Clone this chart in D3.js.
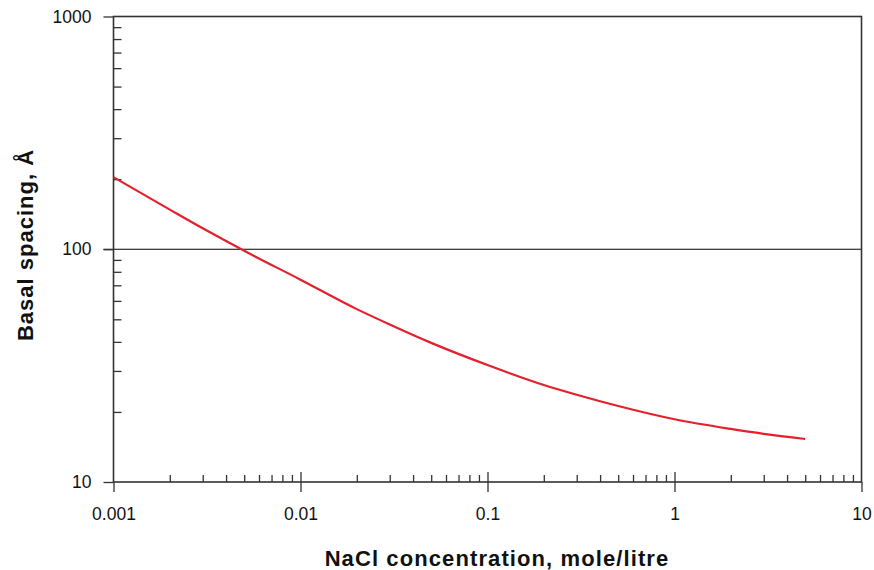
<!DOCTYPE html>
<html>
<head>
<meta charset="utf-8">
<script src="https://cdn.jsdelivr.net/npm/d3@7"></script>
<style>
  body { margin: 0; background: #fff; }
  text { font-family: "Liberation Sans", Arial, sans-serif; }
</style>
</head>
<body>
<div id="container"></div>
<script>
let w = 874;
let h = 570;
let plotLeft = 113.5;
let plotRight = 861.5;
let plotTop = 16.5;
let plotBottom = 482;

// data
let concentration = [0.001, 0.002, 0.003, 0.005, 0.01, 0.02, 0.03, 0.05, 0.1, 0.2, 0.3, 0.5, 1, 2, 3, 5];
let spacing = [204, 148, 123, 98.5, 74, 55.3, 47.5, 39.6, 31.8, 26.1, 23.7, 21.2, 18.6, 16.9, 16.1, 15.3];

let xTicks = [0.001, 0.01, 0.1, 1, 10];
let xTickLabels = ["0.001", "0.01", "0.1", "1", "10"];
let yTicks = [10, 100, 1000];
let yTickLabels = ["10", "100", "1000"];

let viz = d3.select("#container")
  .append("svg")
  .attr("width", w)
  .attr("height", h);

let xScale = d3.scaleLog().domain([0.001, 10]).range([plotLeft, plotRight]);
let yScale = d3.scaleLog().domain([10, 1000]).range([plotBottom, plotTop]);

// minor ticks (2..9 of each decade)
let xMinor = [];
xTicks.slice(0, -1).forEach(t => { for (let k = 2; k < 10; k++) xMinor.push(t * k); });
let yMinor = [];
yTicks.slice(0, -1).forEach(t => { for (let k = 2; k < 10; k++) yMinor.push(t * k); });

// gridline at 100
viz.append('line')
  .attr('x1', plotLeft - 10).attr('x2', plotRight)
  .attr('y1', yScale(100)).attr('y2', yScale(100))
  .attr('stroke', '#000').attr('stroke-width', 1.2);

// y axis: major ticks outward with labels
let yAxisGroup = viz.append('g').attr('transform', 'translate(' + plotLeft + ',0)');
yAxisGroup.call(d3.axisLeft(yScale).tickValues(yTicks)
  .tickFormat((d, i) => yTickLabels[i]).tickSize(10).tickPadding(12));
// y minor ticks inward
let yMinorGroup = viz.append('g').attr('transform', 'translate(' + plotLeft + ',0)');
yMinorGroup.call(d3.axisLeft(yScale).tickValues(yMinor).tickFormat('').tickSize(-8));

// x axis: major ticks outward with labels
let xAxisGroup = viz.append('g').attr('transform', 'translate(0,' + plotBottom + ')');
xAxisGroup.call(d3.axisBottom(xScale).tickValues(xTicks)
  .tickFormat((d, i) => xTickLabels[i]).tickSize(10).tickPadding(16));
// x major ticks inward part
let xInGroup = viz.append('g').attr('transform', 'translate(0,' + plotBottom + ')');
xInGroup.call(d3.axisBottom(xScale).tickValues(xTicks.slice(1, -1)).tickFormat('').tickSize(-10));
// x minor ticks inward
let xMinorGroup = viz.append('g').attr('transform', 'translate(0,' + plotBottom + ')');
xMinorGroup.call(d3.axisBottom(xScale).tickValues(xMinor).tickFormat('').tickSize(-7));

viz.selectAll('.domain').remove();
viz.selectAll('.tick line').attr('stroke', '#333').attr('stroke-width', 1.3);
viz.selectAll('.tick text')
  .attr('font-size', '17.5px')
  .attr('fill', '#111')
  .attr('font-family', '"Liberation Sans", Arial, sans-serif');

// frame
viz.append('rect')
  .attr('x', plotLeft).attr('y', plotTop)
  .attr('width', plotRight - plotLeft).attr('height', plotBottom - plotTop)
  .attr('fill', 'none').attr('stroke', '#333').attr('stroke-width', 1.6);

// curve
let line = d3.line()
  .x((d, i) => xScale(concentration[i]))
  .y(d => yScale(d))
  .curve(d3.curveMonotoneX);

viz.append('path')
  .datum(spacing)
  .attr('d', line)
  .attr('fill', 'none')
  .attr('stroke', '#e3202b')
  .attr('stroke-width', 2.2);

// axis titles
viz.append('text')
  .text('NaCl concentration, mole/litre')
  .attr('x', 497).attr('y', 566)
  .attr('text-anchor', 'middle')
  .attr('font-size', '22px')
  .attr('font-weight', 'bold')
  .attr('letter-spacing', '1.1px')
  .attr('fill', '#111');

viz.append('text')
  .text('Basal spacing, Å')
  .attr('transform', 'translate(33,245) rotate(-90)')
  .attr('text-anchor', 'middle')
  .attr('font-size', '22px')
  .attr('font-weight', 'bold')
  .attr('letter-spacing', '1px')
  .attr('fill', '#111');
</script>
</body>
</html>
